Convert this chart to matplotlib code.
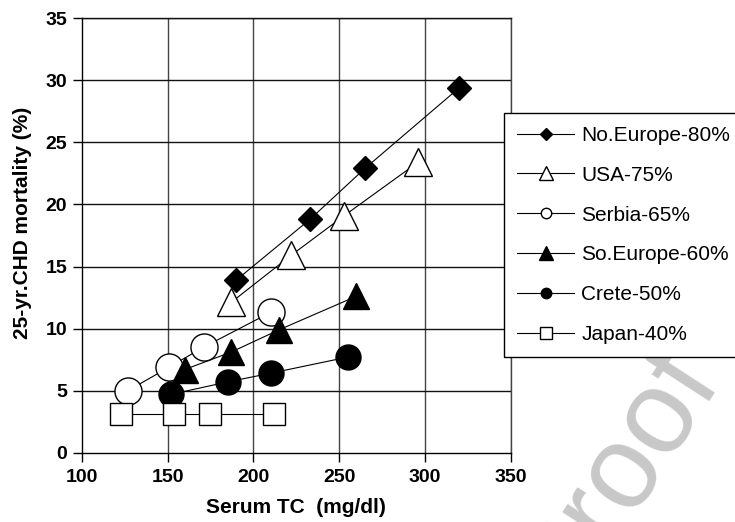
import matplotlib
matplotlib.use("Agg")
import matplotlib.pyplot as plt
from matplotlib.lines import Line2D

plt.rcParams['font.family'] = ['Liberation Sans', 'DejaVu Sans']

# datos
labels = ['No.Europe-80%', 'USA-75%', 'Serbia-65%', 'So.Europe-60%', 'Crete-50%', 'Japan-40%']
x_noeu = [190, 233, 265, 320]
y_noeu = [13.9, 18.8, 22.9, 29.4]
x_usa = [187, 222, 253, 296]
y_usa = [12.1, 15.9, 19.1, 23.4]
x_serbia = [127, 151, 171, 210]
y_serbia = [5.0, 6.9, 8.5, 11.3]
x_soeu = [160, 187, 215, 260]
y_soeu = [6.7, 8.1, 9.9, 12.6]
x_crete = [152, 185, 210, 255]
y_crete = [4.7, 5.7, 6.4, 7.7]
x_japan = [123, 154, 175, 212]
y_japan = [3.1, 3.1, 3.1, 3.1]

xticks = [100, 150, 200, 250, 300, 350]
yticks = [0, 5, 10, 15, 20, 25, 30, 35]

series = [
    (x_noeu, y_noeu, 'D', 'black', 12.5, 6.5),
    (x_usa, y_usa, '^', 'white', 20, 10),
    (x_serbia, y_serbia, 'o', 'white', 19.5, 7.5),
    (x_soeu, y_soeu, '^', 'black', 19, 10),
    (x_crete, y_crete, 'o', 'black', 18, 7.5),
    (x_japan, y_japan, 's', 'white', 16.5, 8),
]

fig = plt.figure(figsize=(7.35, 5.22), dpi=100)
ax = fig.add_axes([0.1112, 0.1328, 0.5837, 0.8322])

for v in xticks[1:]:
    ax.axvline(v, color='#444444', lw=1.0, zorder=1)
for v in yticks[1:]:
    ax.axhline(v, color='#111111', lw=1.0, zorder=1)

handles = []
for (xs, ys, mk, fc, ms, lms), lab in zip(series, labels):
    ax.plot(xs, ys, color='black', lw=0.8, zorder=2)
    ax.plot(xs, ys, ls='none', marker=mk, ms=ms, mfc=fc, mec='black', mew=1.0, zorder=3)
    handles.append(Line2D([], [], color='black', lw=0.8, marker=mk, ms=lms,
                          mfc=fc, mec='black', mew=1.0, label=lab))

ax.set_xlim(100, 350)
ax.set_ylim(0, 35)
ax.set_xticks(xticks)
ax.set_yticks(yticks)
ax.tick_params(direction='out', length=6.5, width=1.0, labelsize=14)
ax.tick_params(axis='x', pad=5)
ax.tick_params(axis='y', pad=4)
for t in ax.get_xticklabels() + ax.get_yticklabels():
    t.set_fontweight('bold')
for s in ax.spines.values():
    s.set_linewidth(1.0)
ax.spines['top'].set_color('#111111')
ax.spines['right'].set_color('#444444')

ax.set_xlabel('Serum TC  (mg/dl)', fontsize=15, fontweight='bold', labelpad=9)
ax.set_ylabel('25-yr.CHD mortality (%)', fontsize=15, fontweight='bold')
ax.yaxis.set_label_coords(-0.116, 0.53)

leg = fig.legend(handles=handles, loc='upper left', bbox_to_anchor=(0.6857, 0.7835),
                 bbox_transform=fig.transFigure, fontsize=15, frameon=True, fancybox=False,
                 framealpha=1, edgecolor='black', handlelength=2.75, handletextpad=0.35,
                 labelspacing=1.0, borderpad=0.62, borderaxespad=0)
leg.get_frame().set_linewidth(1.0)

# marca de agua
fig.text(0.838, 0.09, 'Proof', fontsize=85, color='#c8c8c8', rotation=57,
         ha='center', va='center', zorder=0)

fig.savefig('out.png', dpi=100)
